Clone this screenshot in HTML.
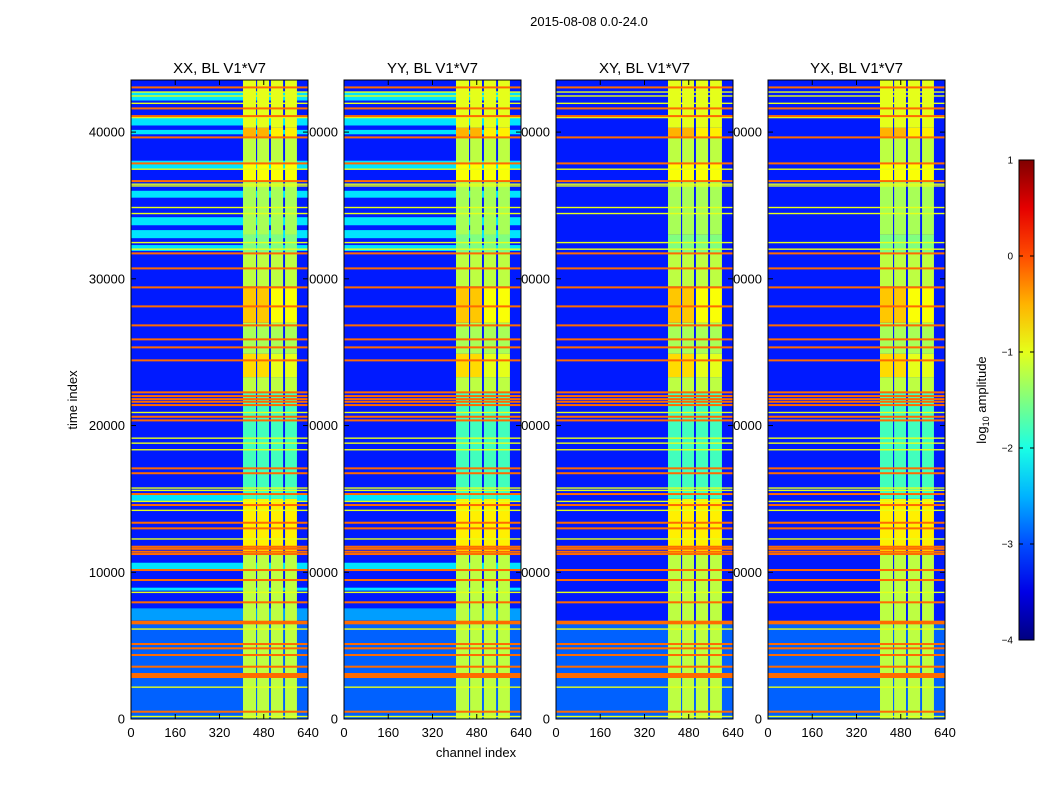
<!DOCTYPE html>
<html><head><meta charset="utf-8"><style>
body{margin:0;background:#fff;width:1050px;height:800px;overflow:hidden}
svg{font-family:"Liberation Sans",sans-serif}
</style></head><body>
<svg id="chart" width="1050" height="800">
<text x="589" y="26" font-size="13" text-anchor="middle">2015-08-08 0.0-24.0</text>
<text x="77" y="400" font-size="13" text-anchor="middle" transform="rotate(-90 77 400)">time index</text>
<text x="476" y="757" font-size="13" text-anchor="middle">channel index</text>
<g id="labels"></g>
<g id="panels"></g>
<g id="cbar"></g>
<text x="986" y="400" font-size="13" text-anchor="middle" transform="rotate(-90 986 400)">log<tspan font-size="9" dy="3">10</tspan><tspan dy="-3"> amplitude</tspan></text>
</svg>
<script>
const panelTitles = ["XX, BL V1*V7","YY, BL V1*V7","XY, BL V1*V7","YX, BL V1*V7"];
const panelCyan = [true,true,false,false];
const xTicks = [0,160,320,480,640];
const yTicks = [0,10000,20000,30000,40000];
const cbTicks = [1,0,-1,-2,-3,-4];
const cbTickLabels = ["1","0","\u22121","\u22122","\u22123","\u22124"];
const stripStart = [405,456,506,557];
const stripEnd = [452,499,550,600];
// strip level segments [t0, t1, level]
const segT0 = [0,11300,15000,22300,23300,24900,27000,29500,31700,33000,36700,37900,39700,40300];
const segT1 = [11300,15000,22300,23300,24900,27000,29500,31700,33000,36700,37900,39700,40300,43550];
const segLevel = [-1.2,-0.8,-1.8,-1.2,-0.7,-1.3,-0.6,-1.2,-1.5,-1.3,-0.9,-1.2,-0.5,-1.0];
// orange lines (time index)
const orangeT = [43045,41614,41090,39638,37866,36660,31733,30711,29416,28121,26827,25873,25328,24442,22262,22009,21800,21620,21395,20600,20350,17083,16750,15332,14582,13376,12993,11741,11600,11400,11243,10153,9472,7952,6630,6520,5110,4817,4361,3564,3066,2960,2862,497];
// yellow-green thin lines
const yellowT = [42730,42460,41960,40990,37470,36450,36330,34860,34450,32470,32020,20890,19140,18800,18350,15740,15580,14830,14220,12270,8630,6130,2170,170];
// cyan bands [t0,t1]
const cyanT0 = [42150,40450,39850,37450,35530,33650,32770,31900,14870,10150,8750];
const cyanT1 = [42750,41000,40150,38050,36000,34200,33320,32300,15400,10650,8950];
const cbLevels = [-4,-3.5,-3,-2.5,-2,-1.5,-1,-0.5,0,0.5,1];

const NS="http://www.w3.org/2000/svg";
const svg=document.getElementById('chart');
const panelsG=document.getElementById('panels'), labelsG=document.getElementById('labels'), cbarG=document.getElementById('cbar');
const panelX=[131,344,556,768], PW=177, PT=80, PB=719, TMAX=43550;
function jet(level){const v=Math.max(0,Math.min(1,(level+4)/5));const c=x=>Math.round(255*Math.max(0,Math.min(1,x)));
return `rgb(${c(1.5-Math.abs(4*v-3))},${c(1.5-Math.abs(4*v-2))},${c(1.5-Math.abs(4*v-1))})`;}
function mk(tag,attrs,parent){const e=document.createElementNS(NS,tag);for(const k in attrs)e.setAttribute(k,attrs[k]);parent.appendChild(e);return e;}
const yS=t=>PB-(t/TMAX)*(PB-PT);
panelX.forEach((x0,p)=>{
  const xS=c=>x0+c/640*PW;
  yTicks.forEach(t=>{const e=mk('text',{x:x0-6,y:yS(t)+4.5,'font-size':13,'text-anchor':'end'},labelsG);e.textContent=t;
    
    });
  xTicks.forEach(c=>{const e=mk('text',{x:xS(c),y:737,'font-size':13,'text-anchor':'middle'},labelsG);e.textContent=c;
    
    });
  const t=mk('text',{x:x0+PW/2,y:73,'font-size':15,'text-anchor':'middle'},labelsG);t.textContent=panelTitles[p];
  
  
  const g=mk('g',{},panelsG);
  
  
  mk('rect',{x:x0,y:PT,width:PW,height:PB-PT,fill:jet(-3.25)},g);
  mk('rect',{x:x0,y:yS(6700),width:PW,height:yS(0)-yS(6700),fill:jet(-2.9)},g);
  if(panelCyan[p]) mk('rect',{x:x0,y:yS(7540),width:PW,height:yS(6720)-yS(7540),fill:jet(-2.6)},g);
  if(panelCyan[p]) cyanT0.forEach((a,i)=>{const r=mk('rect',{x:x0,y:yS(cyanT1[i]),width:PW,height:yS(a)-yS(cyanT1[i]),fill:jet(-2.25)},g);
    
    });
  stripStart.forEach((s,i)=>{segT0.forEach((a,j)=>{const r=mk('rect',{x:xS(s),y:yS(segT1[j]),width:xS(stripEnd[i])-xS(s),height:yS(a)-yS(segT1[j]),fill:jet(segLevel[j]-(i>1&&segLevel[j]>-0.8?0.3:0))},g);
    
    });});
  yellowT.forEach(tv=>{const r=mk('rect',{x:x0,y:yS(tv)-0.7,width:PW,height:1.4,fill:jet(-1.0)},g);
    
    });
  orangeT.forEach(tv=>{const r=mk('rect',{x:x0,y:yS(tv)-1,width:PW,height:2,fill:jet(-0.15)},g);
    
    });
  mk('rect',{x:x0,y:PT,width:PW,height:PB-PT,fill:'none',stroke:'#000','stroke-width':1},g);
  yTicks.forEach(tv=>{mk('line',{x1:x0,x2:x0+5,y1:yS(tv),y2:yS(tv),stroke:'#000'},g);mk('line',{x1:x0+PW-5,x2:x0+PW,y1:yS(tv),y2:yS(tv),stroke:'#000'},g);});
  xTicks.forEach(c=>{mk('line',{x1:xS(c),x2:xS(c),y1:PB,y2:PB-5,stroke:'#000'},g);mk('line',{x1:xS(c),x2:xS(c),y1:PT,y2:PT+5,stroke:'#000'},g);});
});
const CX=1019,CW=15,CT=160,CB=640;const cS=l=>CB-(l+4)/5*(CB-CT);
const grad=mk('linearGradient',{id:'jetg',x1:0,y1:1,x2:0,y2:0},mk('defs',{},svg));
cbLevels.forEach(l=>mk('stop',{offset:((l+4)/5),'stop-color':jet(l)},grad));
mk('rect',{x:CX,y:CT,width:CW,height:CB-CT,fill:'url(#jetg)',stroke:'#000'},cbarG);
cbTicks.forEach((l,i)=>{mk('line',{x1:CX,x2:CX+4,y1:cS(l),y2:cS(l),stroke:'#000'},cbarG);mk('line',{x1:CX+CW-4,x2:CX+CW,y1:cS(l),y2:cS(l),stroke:'#000'},cbarG);
  const e=mk('text',{x:CX-6,y:cS(l)+3.5,'font-size':10,'text-anchor':'end'},cbarG);e.textContent=cbTickLabels[i];
  
  });
</script>
</body></html>
